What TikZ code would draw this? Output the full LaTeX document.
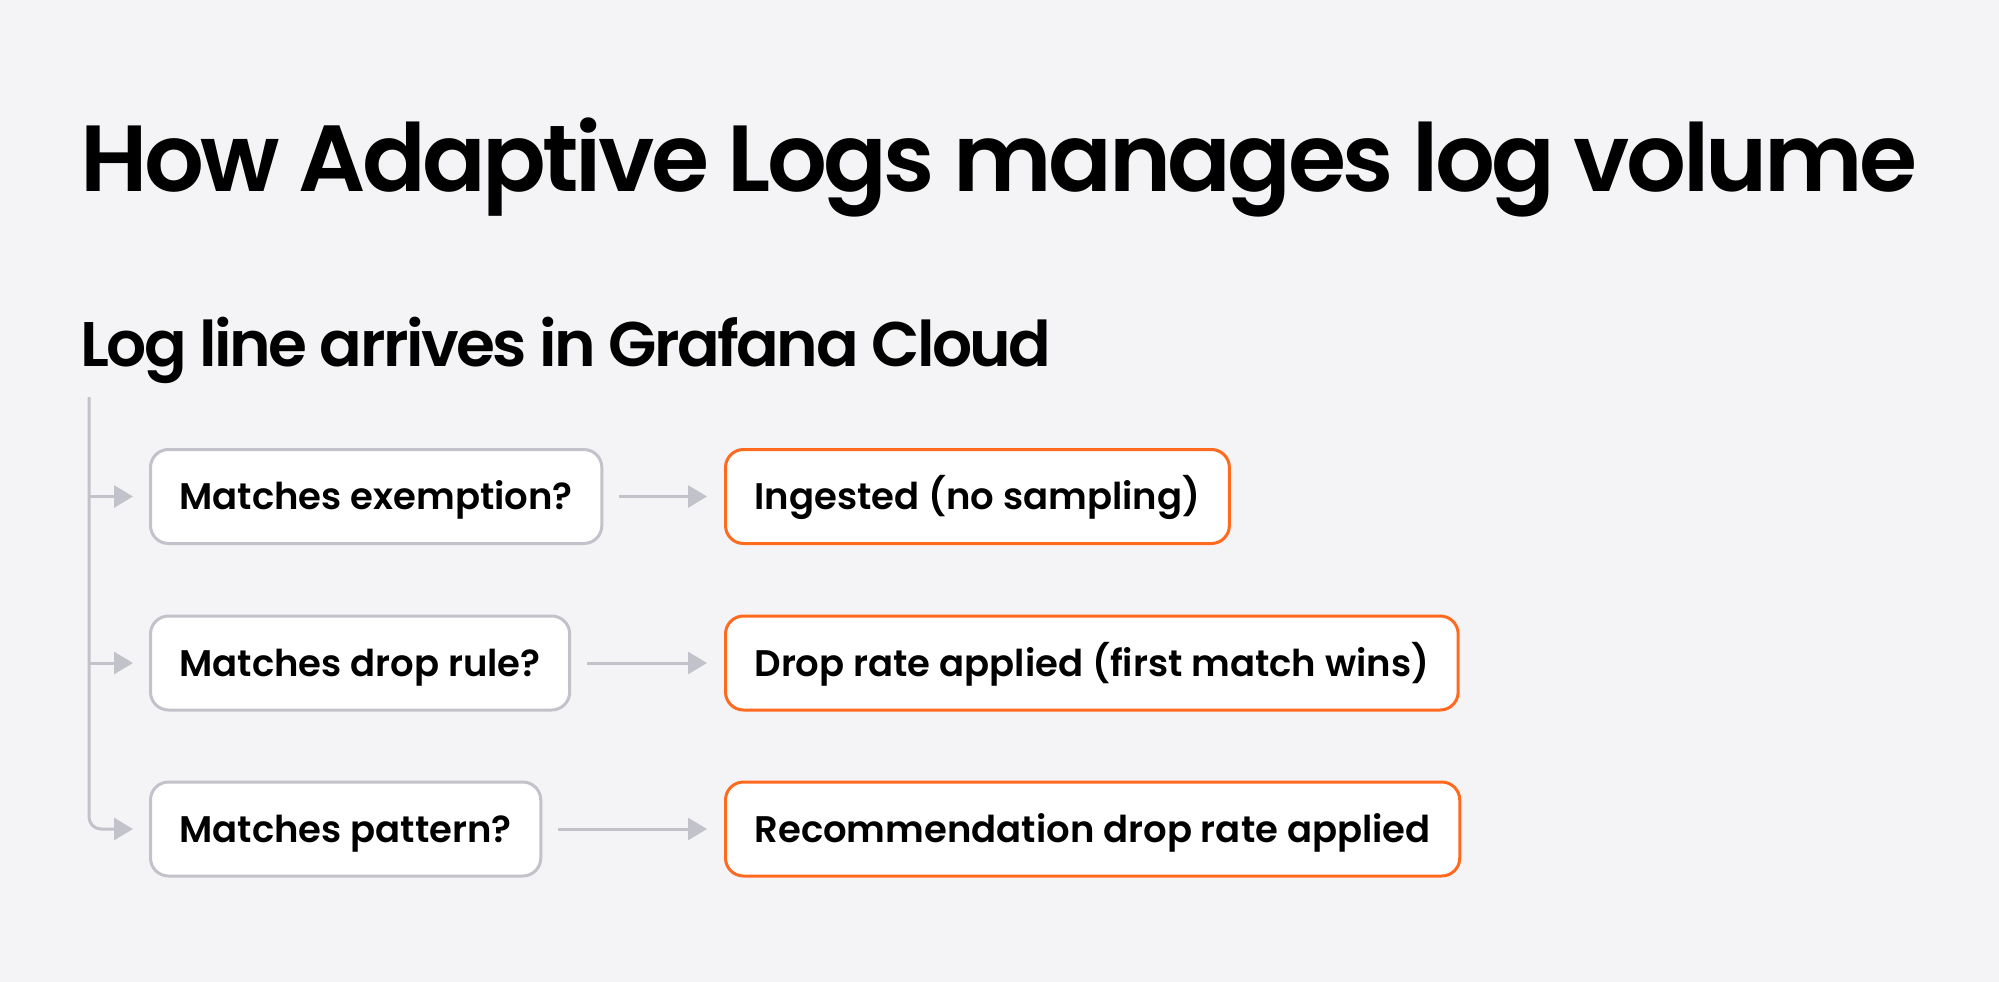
\documentclass[tikz,border=0pt]{standalone}
\usepackage{fontspec}
\setmainfont{Poppins}[BoldFont={Poppins SemiBold}]
\usetikzlibrary{arrows.meta}
\definecolor{bgc}{HTML}{F4F4F6}
\definecolor{gstroke}{HTML}{C2C2CA}
\definecolor{ostroke}{HTML}{FF6A1F}
\definecolor{ink}{HTML}{000000}
\tikzset{
  qbox/.style={draw=gstroke, line width=3pt, fill=white, rounded corners=18pt,
    anchor=north west, inner xsep=29pt, minimum height=94pt, text height=26pt, text depth=0pt,
    font=\fontsize{37}{40}\selectfont\bfseries, text=ink},
  abox/.style={qbox, draw=ostroke},
  garrow/.style={draw=gstroke, line width=3pt, -{Triangle[length=19pt,width=22pt]}},
  ttl/.style={anchor=base west, inner sep=0pt, text=ink}
}
\begin{document}
\begin{tikzpicture}[x=1pt,y=-1pt]
\fill[bgc] (0,0) rectangle (1999,982);
\useasboundingbox (0,0) rectangle (1999,982);
\node[ttl, font=\fontsize{94}{100}\selectfont\bfseries\addfontfeatures{LetterSpace=-3.8}] (title) at (80,191) {How Adaptive Logs manages log volume};
\node[ttl, font=\fontsize{63}{70}\selectfont\bfseries\addfontfeatures{LetterSpace=-4.0}] (sub) at (80,366) {Log line arrives in Grafana Cloud};
\node[qbox] (q1) at (149,448) {Matches exemption?};
\node[qbox] (q2) at (149,614.5) {Matches drop rule?};
\node[qbox] (q3) at (149,780.5) {Matches pattern?};
\node[abox] (a1) at (724,448) {Ingested (no sampling)};
\node[abox] (a2) at (724,614.5) {Drop rate applied (first match wins)};
\node[abox] (a3) at (724,780.5) {Recommendation drop rate applied};
\coordinate (trunk) at (89,397);
\draw[garrow] (trunk |- q1.west) -- ([xshift=-16pt]q1.west);
\draw[garrow] (trunk |- q2.west) -- ([xshift=-16pt]q2.west);
\draw[garrow, rounded corners=12pt] (trunk) |- ([xshift=-16pt]q3.west);
\draw[garrow] ([xshift=16pt]q1.east) -- ([xshift=-17pt]a1.west);
\draw[garrow] ([xshift=16pt]q2.east) -- ([xshift=-17pt]a2.west);
\draw[garrow] ([xshift=16pt]q3.east) -- ([xshift=-17pt]a3.west);
\end{tikzpicture}
\end{document}
